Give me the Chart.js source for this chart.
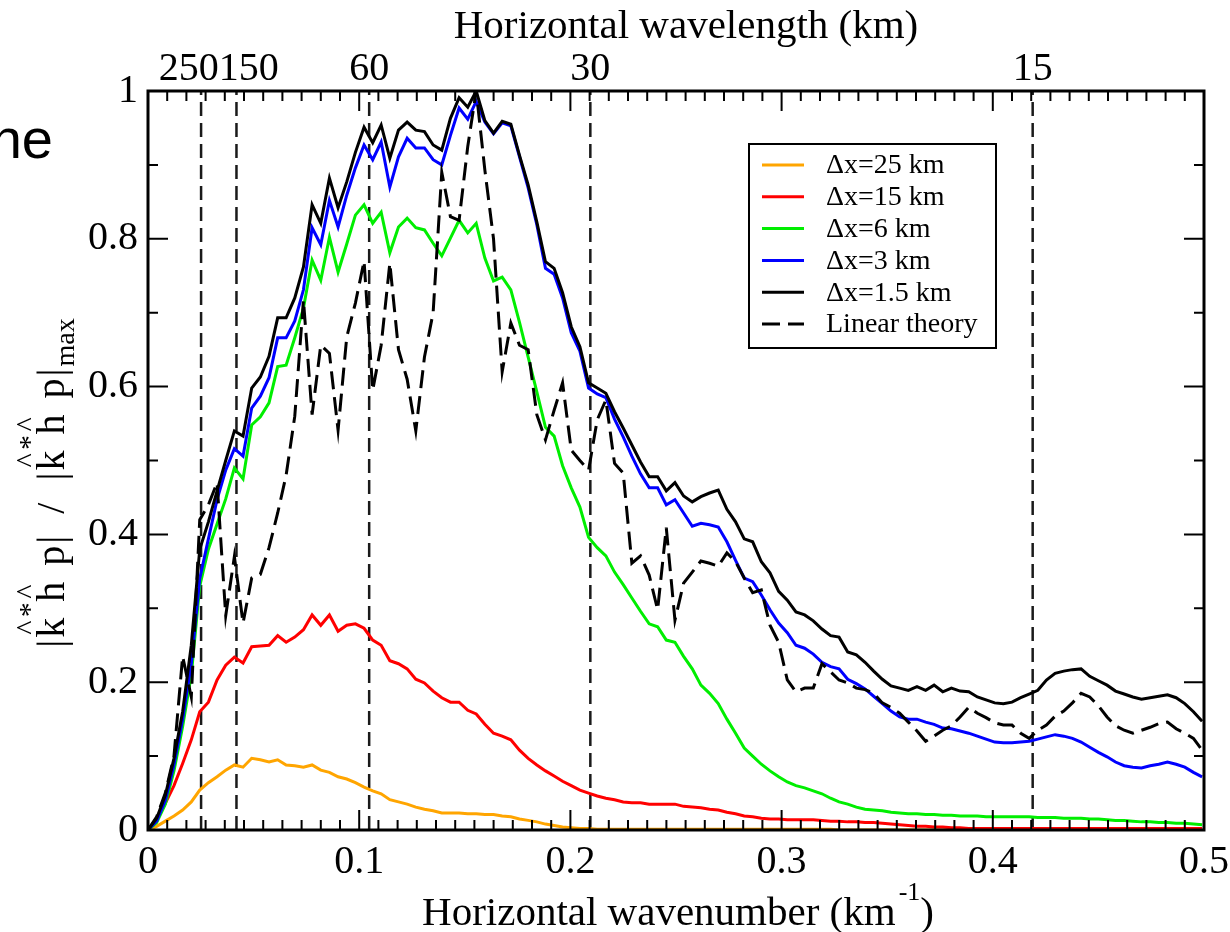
<!DOCTYPE html>
<html>
<head>
<meta charset="utf-8">
<script src="https://cdn.jsdelivr.net/npm/chart.js@4.4.1/dist/chart.umd.min.js"></script>
<style>
  html, body { margin: 0; padding: 0; background: #fff; }
  #wrap { position: relative; width: 1230px; height: 932px; }
  canvas { display: block; }
</style>
</head>
<body>
<div id="wrap"><canvas id="spectrum" width="1230" height="932"></canvas></div>
<script>
// Horizontal wavenumber samples (km^-1)
const wavenumber = [
  0, 0.0041, 0.0082, 0.0123, 0.0164, 0.0205, 0.0245, 0.0286, 0.0327, 0.0368,
  0.0409, 0.0450, 0.0491, 0.0532, 0.0573, 0.0614, 0.0654, 0.0695, 0.0736, 0.0777,
  0.0818, 0.0859, 0.0900, 0.0941, 0.0982, 0.1023, 0.1064, 0.1104, 0.1145, 0.1186,
  0.1227, 0.1268, 0.1309, 0.1350, 0.1391, 0.1432, 0.1473, 0.1514, 0.1554, 0.1595,
  0.1636, 0.1677, 0.1718, 0.1759, 0.1800, 0.1841, 0.1882, 0.1923, 0.1963, 0.2004,
  0.2045, 0.2086, 0.2127, 0.2168, 0.2209, 0.2250, 0.2291, 0.2332, 0.2373, 0.2413,
  0.2454, 0.2495, 0.2536, 0.2577, 0.2618, 0.2659, 0.2700, 0.2741, 0.2782, 0.2823,
  0.2863, 0.2904, 0.2945, 0.2986, 0.3027, 0.3068, 0.3109, 0.3150, 0.3191, 0.3232,
  0.3272, 0.3313, 0.3354, 0.3395, 0.3436, 0.3477, 0.3518, 0.3559, 0.3600, 0.3641,
  0.3682, 0.3722, 0.3763, 0.3804, 0.3845, 0.3886, 0.3927, 0.3968, 0.4009, 0.4050,
  0.4091, 0.4132, 0.4172, 0.4213, 0.4254, 0.4295, 0.4336, 0.4377, 0.4418, 0.4459,
  0.4500, 0.4541, 0.4581, 0.4622, 0.4663, 0.4704, 0.4745, 0.4786, 0.4827, 0.4868,
  0.4909, 0.4950, 0.4991
];

// Normalised spectra, one per grid spacing
const dx25km = [
  0, 0.005, 0.012, 0.019, 0.027, 0.038, 0.054, 0.064, 0.072, 0.081,
  0.088, 0.085, 0.097, 0.095, 0.092, 0.095, 0.088, 0.087, 0.085, 0.088,
  0.081, 0.078, 0.072, 0.069, 0.064, 0.058, 0.053, 0.049, 0.041, 0.038,
  0.035, 0.031, 0.028, 0.026, 0.023, 0.023, 0.023, 0.022, 0.022, 0.021,
  0.021, 0.019, 0.018, 0.015, 0.013, 0.011, 0.008, 0.006, 0.004, 0.003,
  0.002, 0.002, 0.001, 0.001, 0.001, 0.001, 0.001, 0.001, 0.001, 0.001,
  0.001, 0.001, 0.001, 0.001, 0.001, 0.001, 0.001, 0.001, 0.001, 0.001,
  0.001, 0.001, 0.001, 0.001, 0.001, 0.001, 0.001, 0.001, 0.001, 0.001,
  0, 0, 0, 0, 0, 0, 0, 0, 0, 0,
  0, 0, 0, 0, 0, 0, 0, 0, 0, 0,
  0, 0, 0, 0, 0, 0, 0, 0, 0, 0,
  0, 0, 0, 0, 0, 0, 0, 0, 0, 0,
  0, 0, 0
];

const dx15km = [
  0, 0.014, 0.036, 0.06, 0.09, 0.122, 0.16, 0.173, 0.203, 0.223,
  0.234, 0.226, 0.248, 0.249, 0.25, 0.263, 0.254, 0.261, 0.271, 0.291,
  0.277, 0.291, 0.269, 0.277, 0.279, 0.273, 0.257, 0.25, 0.229, 0.225,
  0.218, 0.204, 0.199, 0.188, 0.179, 0.173, 0.173, 0.162, 0.157, 0.143,
  0.131, 0.127, 0.122, 0.108, 0.097, 0.088, 0.08, 0.073, 0.066, 0.06,
  0.054, 0.05, 0.046, 0.043, 0.041, 0.038, 0.037, 0.037, 0.035, 0.035,
  0.035, 0.035, 0.032, 0.031, 0.03, 0.028, 0.027, 0.024, 0.022, 0.019,
  0.018, 0.016, 0.015, 0.015, 0.014, 0.014, 0.014, 0.014, 0.013, 0.012,
  0.012, 0.011, 0.011, 0.01, 0.01, 0.009, 0.008, 0.007, 0.006, 0.005,
  0.005, 0.004, 0.004, 0.003, 0.003, 0.002, 0.002, 0.002, 0.002, 0.002,
  0.002, 0.002, 0.002, 0.002, 0.002, 0.002, 0.002, 0.002, 0.002, 0.002,
  0.002, 0.002, 0.002, 0.002, 0.002, 0.002, 0.002, 0.002, 0.002, 0.002,
  0.002, 0.002, 0.002
];

const dx6km = [
  0, 0.01, 0.035, 0.08, 0.14, 0.21, 0.33, 0.38, 0.414, 0.448,
  0.49, 0.475, 0.548, 0.559, 0.578, 0.627, 0.629, 0.666, 0.706, 0.771,
  0.744, 0.802, 0.755, 0.793, 0.832, 0.846, 0.821, 0.836, 0.781, 0.816,
  0.828, 0.815, 0.812, 0.794, 0.777, 0.801, 0.825, 0.808, 0.821, 0.774,
  0.743, 0.748, 0.731, 0.687, 0.64, 0.593, 0.545, 0.533, 0.493, 0.463,
  0.437, 0.396, 0.382, 0.371, 0.349, 0.332, 0.314, 0.296, 0.279, 0.275,
  0.257, 0.254, 0.235, 0.218, 0.196, 0.185, 0.171, 0.15, 0.131, 0.111,
  0.1, 0.089, 0.08, 0.072, 0.065, 0.06, 0.057, 0.053, 0.049, 0.043,
  0.038, 0.035, 0.031, 0.028, 0.027, 0.026, 0.024, 0.023, 0.022, 0.022,
  0.021, 0.021, 0.02, 0.02, 0.019, 0.019, 0.019, 0.018, 0.018, 0.018,
  0.018, 0.018, 0.018, 0.017, 0.017, 0.017, 0.016, 0.016, 0.016, 0.015,
  0.015, 0.014, 0.013, 0.013, 0.012, 0.011, 0.011, 0.01, 0.01, 0.009,
  0.009, 0.008, 0.007
];

const dx3km = [
  0, 0.012, 0.04, 0.088, 0.15, 0.225, 0.34, 0.394, 0.447, 0.487,
  0.516, 0.506, 0.571, 0.587, 0.612, 0.666, 0.666, 0.689, 0.731, 0.815,
  0.792, 0.852, 0.816, 0.859, 0.896, 0.927, 0.907, 0.931, 0.87, 0.911,
  0.936, 0.923, 0.923, 0.907, 0.9, 0.94, 0.977, 0.962, 0.986, 0.958,
  0.942, 0.957, 0.953, 0.911, 0.869, 0.819, 0.76, 0.752, 0.72, 0.673,
  0.648, 0.598, 0.59, 0.585, 0.556, 0.532, 0.506, 0.482, 0.463, 0.463,
  0.44, 0.447, 0.429, 0.411, 0.415, 0.413, 0.41, 0.39, 0.365, 0.341,
  0.336, 0.318, 0.298, 0.28, 0.267, 0.25, 0.246, 0.238, 0.227, 0.221,
  0.218, 0.204, 0.198, 0.191, 0.181, 0.171, 0.161, 0.153, 0.15, 0.15,
  0.146, 0.143, 0.138, 0.137, 0.134, 0.131, 0.127, 0.123, 0.119, 0.118,
  0.118, 0.119, 0.12, 0.123, 0.126, 0.129, 0.127, 0.124, 0.119, 0.112,
  0.105, 0.099, 0.092, 0.087, 0.085, 0.084, 0.087, 0.089, 0.092, 0.089,
  0.085, 0.078, 0.072
];

const dx1p5km = [
  0, 0.016, 0.047, 0.097, 0.16, 0.25, 0.38, 0.417, 0.459, 0.5,
  0.54, 0.533, 0.598, 0.613, 0.641, 0.693, 0.693, 0.72, 0.762, 0.846,
  0.821, 0.882, 0.842, 0.877, 0.917, 0.951, 0.93, 0.954, 0.909, 0.947,
  0.958, 0.947, 0.945, 0.927, 0.92, 0.963, 0.991, 0.978, 1.0, 0.96,
  0.943, 0.959, 0.955, 0.913, 0.873, 0.823, 0.769, 0.76, 0.727, 0.681,
  0.654, 0.605, 0.598, 0.591, 0.566, 0.544, 0.521, 0.498, 0.478, 0.478,
  0.459, 0.47, 0.452, 0.444, 0.451, 0.456, 0.46, 0.434, 0.417, 0.394,
  0.39, 0.363, 0.348, 0.323, 0.311, 0.295, 0.291, 0.283, 0.272, 0.263,
  0.261, 0.241, 0.237, 0.227, 0.215, 0.204, 0.195, 0.192, 0.189, 0.194,
  0.189, 0.196, 0.187, 0.192, 0.188, 0.187, 0.18, 0.176, 0.172, 0.171,
  0.173, 0.179, 0.184, 0.189, 0.203, 0.212, 0.215, 0.217, 0.218, 0.208,
  0.202, 0.196, 0.188, 0.184, 0.18, 0.177, 0.179, 0.181, 0.183, 0.179,
  0.171, 0.16, 0.147
];

const linearTheory = [
  0, 0.018, 0.05, 0.1, 0.235, 0.18, 0.42, 0.44, 0.47, 0.29,
  0.37, 0.28, 0.341, 0.346, 0.382, 0.429, 0.48, 0.56, 0.717, 0.562,
  0.656, 0.645, 0.541, 0.667, 0.713, 0.77, 0.595, 0.656, 0.767, 0.65,
  0.61, 0.54, 0.64, 0.7, 0.89, 0.83, 0.825, 0.925, 1.0, 0.893,
  0.8, 0.62, 0.686, 0.656, 0.65, 0.562, 0.528, 0.568, 0.605, 0.514,
  0.5, 0.487, 0.555, 0.582, 0.496, 0.483, 0.361, 0.371, 0.345, 0.298,
  0.409, 0.284, 0.334, 0.349, 0.364, 0.361, 0.357, 0.375, 0.363, 0.341,
  0.321, 0.325, 0.277, 0.254, 0.203, 0.187, 0.192, 0.192, 0.225, 0.214,
  0.203, 0.199, 0.192, 0.19, 0.185, 0.172, 0.166, 0.158, 0.146, 0.134,
  0.12, 0.127, 0.135, 0.141, 0.153, 0.166, 0.158, 0.152, 0.145, 0.142,
  0.142, 0.131, 0.124, 0.135, 0.142, 0.154, 0.161, 0.172, 0.185, 0.18,
  0.168, 0.153, 0.141, 0.135, 0.131, 0.135, 0.139, 0.144, 0.146, 0.137,
  0.131, 0.124, 0.108
];

// Axis ticks and the wavelengths marked along the top edge (km)
const xTicks = [0, 0.1, 0.2, 0.3, 0.4, 0.5];
const yTicks = [0, 0.2, 0.4, 0.6, 0.8, 1];
const wavelengthMarks = [250, 150, 60, 30, 15];

const SERIF = '"Liberation Serif", "Times New Roman", serif';

const seriesDefs = [
  { label: 'Δx=25 km',      values: dx25km,       color: '#ffa500', order: 6 },
  { label: 'Δx=15 km',      values: dx15km,       color: '#ff0000', order: 5 },
  { label: 'Δx=6 km',       values: dx6km,        color: '#00ee00', order: 4 },
  { label: 'Δx=3 km',       values: dx3km,        color: '#0000ff', order: 3 },
  { label: 'Δx=1.5 km',     values: dx1p5km,      color: '#000000', order: 2 },
  { label: 'Linear theory', values: linearTheory, color: '#000000', order: 1, dash: [18, 8] }
];

const spectrumSets = seriesDefs.map(s => ({
  label: s.label,
  data: wavenumber.map((k, i) => ({ x: k, y: s.values[i] })),
  borderColor: s.color,
  backgroundColor: s.color,
  borderWidth: 3,
  borderDash: s.dash || [],
  pointRadius: 0,
  tension: 0,
  fill: false,
  order: s.order
}));

// Vertical guides at k = 2*pi / wavelength
const guideSets = wavelengthMarks.map(lam => ({
  label: lam + ' km',
  guide: true,
  data: [{ x: 2 * Math.PI / lam, y: 0 }, { x: 2 * Math.PI / lam, y: 1 }],
  borderColor: '#1a1a1a',
  borderWidth: 2.5,
  borderDash: [14, 7],
  pointRadius: 0,
  fill: false,
  order: 7
}));

function tickLine(ctx, x0, y0, x1, y1) {
  ctx.moveTo(x0, y0);
  ctx.lineTo(x1, y1);
}

// Frame, inward ticks, wavelength labels, titles and legend
const decorations = {
  id: 'decorations',
  afterDatasetsDraw(chart) {
    const { ctx, chartArea: a, scales: { x, y } } = chart;
    ctx.save();

    // inward tick marks on all four sides
    ctx.strokeStyle = '#000';
    ctx.lineWidth = 2;
    ctx.beginPath();
    const xMinor = (xTicks[1] - xTicks[0]) / 11;
    xTicks.forEach((v, i) => {
      const px = x.getPixelForValue(v);
      tickLine(ctx, px, a.bottom, px, a.bottom - 20);
      tickLine(ctx, px, a.top, px, a.top + 20);
      if (i < xTicks.length - 1) {
        for (let j = 1; j <= 10; j++) {
          const pm = x.getPixelForValue(v + j * xMinor);
          tickLine(ctx, pm, a.bottom, pm, a.bottom - 10);
          tickLine(ctx, pm, a.top, pm, a.top + 10);
        }
      }
    });
    yTicks.forEach((v, i) => {
      const py = y.getPixelForValue(v);
      tickLine(ctx, a.left, py, a.left + 20, py);
      tickLine(ctx, a.right, py, a.right - 20, py);
      if (i < yTicks.length - 1) {
        const pm = y.getPixelForValue((v + yTicks[i + 1]) / 2);
        tickLine(ctx, a.left, pm, a.left + 10, pm);
        tickLine(ctx, a.right, pm, a.right - 10, pm);
      }
    });
    ctx.stroke();

    // frame
    ctx.lineWidth = 3;
    ctx.strokeRect(a.left, a.top, a.right - a.left, a.bottom - a.top);

    // wavelength labels along the top, nudged apart where they collide
    ctx.fillStyle = '#000';
    ctx.font = '40px ' + SERIF;
    ctx.textAlign = 'center';
    ctx.textBaseline = 'alphabetic';
    const tops = wavelengthMarks.map(lam => {
      const text = String(lam);
      return { text, cx: x.getPixelForValue(2 * Math.PI / lam), w: ctx.measureText(text).width };
    });
    for (let i = 0; i < tops.length - 1; i++) {
      const l = tops[i], r = tops[i + 1];
      const overlap = (l.cx + l.w / 2) - (r.cx - r.w / 2);
      if (overlap > 0) { l.cx -= overlap / 2; r.cx += overlap / 2; }
    }
    tops.forEach(t => ctx.fillText(t.text, t.cx, a.top - 11));

    // top title
    ctx.font = '41px ' + SERIF;
    ctx.fillText('Horizontal wavelength (km)', (a.left + a.right) / 2 + 10, 38);

    // bottom title with superscript
    const mainA = 'Horizontal wavenumber (km';
    const sup = '-1';
    const mainB = ')';
    ctx.font = '41px ' + SERIF;
    const wA = ctx.measureText(mainA).width;
    const wB = ctx.measureText(mainB).width;
    ctx.font = '26px ' + SERIF;
    const wS = ctx.measureText(sup).width;
    const total = wA + 3 + wS + wB;
    const bx = (a.left + a.right) / 2 - total / 2 + 2;
    ctx.textAlign = 'left';
    ctx.font = '41px ' + SERIF;
    ctx.fillText(mainA, bx, 925);
    ctx.font = '26px ' + SERIF;
    ctx.fillText(sup, bx + wA + 3, 900);
    ctx.font = '41px ' + SERIF;
    ctx.fillText(mainB, bx + wA + 3 + wS, 925);

    // y-axis title, written bottom to top
    drawYTitle(ctx);

    // legend box
    const lx = a.left + 601, ly = a.top + 53, lw = 247, lh = 204;
    ctx.fillStyle = '#fff';
    ctx.fillRect(lx, ly, lw, lh);
    ctx.strokeStyle = '#000';
    ctx.lineWidth = 2;
    ctx.strokeRect(lx, ly, lw, lh);
    ctx.font = '28px ' + SERIF;
    ctx.textAlign = 'left';
    ctx.textBaseline = 'middle';
    const entries = chart.data.datasets.filter(d => !d.guide);
    entries.forEach((d, i) => {
      const ry = ly + 21 + i * 31.8;
      ctx.beginPath();
      ctx.strokeStyle = d.borderColor;
      ctx.lineWidth = 3;
      ctx.setLineDash(d.borderDash || []);
      ctx.moveTo(lx + 13, ry);
      ctx.lineTo(lx + 55, ry);
      ctx.stroke();
      ctx.setLineDash([]);
      ctx.fillStyle = '#000';
      ctx.fillText(d.label, lx + 77, ry + 1);
    });

    // fragment of neighbouring text at the left edge
    ctx.font = '56px "Liberation Sans", Arial, sans-serif';
    ctx.textAlign = 'right';
    ctx.textBaseline = 'alphabetic';
    ctx.fillStyle = '#000';
    ctx.fillText('he', 53, 158);

    ctx.restore();
  }
};

function drawYTitle(ctx) {
  const base = '40px ' + SERIF;
  const small = '28px ' + SERIF;
  ctx.save();
  ctx.font = base;
  // glyphs with the extra gap placed before each one
  const seq = [['|', 0], ['k', 2], ['h', 16], ['p', 16], ['|', 2],
               ['/', 22], ['|', 22], ['k', 2], ['h', 16], ['p', 16], ['|', 2]];
  let u = 0;
  const placed = [];
  seq.forEach(([ch, gap]) => {
    u += gap;
    const w = ctx.measureText(ch).width;
    placed.push({ ch, u, w });
    u += w;
  });
  ctx.font = small;
  const subW = ctx.measureText('max').width;
  const totalLen = u + 2 + subW;
  ctx.translate(64, 483);
  ctx.rotate(-Math.PI / 2);
  const u0 = -totalLen / 2;
  ctx.fillStyle = '#000';
  ctx.textAlign = 'left';
  ctx.textBaseline = 'alphabetic';
  ctx.font = base;
  placed.forEach(p => ctx.fillText(p.ch, u0 + p.u, 0));
  ctx.font = small;
  ctx.fillText('max', u0 + u + 2, 10);
  // accents above k and h in both groups
  ctx.font = '30px ' + SERIF;
  ctx.textAlign = 'center';
  [1, 7].forEach(ik => {
    const k = placed[ik], h = placed[ik + 1];
    ctx.fillText('^', u0 + k.u + k.w / 2, -27);
    ctx.fillText('*', u0 + (k.u + k.w + h.u) / 2, -25);
    ctx.fillText('^', u0 + h.u + h.w / 2, -27);
  });
  ctx.restore();
}

const tickFont = { family: SERIF, size: 40 };

new Chart(document.getElementById('spectrum'), {
  type: 'line',
  data: { datasets: [...spectrumSets, ...guideSets] },
  options: {
    responsive: false,
    animation: false,
    devicePixelRatio: 1,
    layout: { padding: { top: 91, right: 26, left: 0, bottom: 0 } },
    plugins: { legend: { display: false }, tooltip: { enabled: false } },
    scales: {
      x: {
        type: 'linear',
        min: 0,
        max: 0.5,
        grid: { display: false, drawTicks: false },
        border: { display: false },
        afterBuildTicks: s => { s.ticks = xTicks.map(v => ({ value: v })); },
        afterFit: s => { s.height = 102; s.paddingLeft = 0; s.paddingRight = 0; },
        ticks: {
          font: tickFont,
          color: '#000',
          padding: 8,
          maxRotation: 0,
          autoSkip: false,
          callback: v => String(Math.round(v * 10) / 10)
        }
      },
      y: {
        type: 'linear',
        min: 0,
        max: 1,
        grid: { display: false, drawTicks: false },
        border: { display: false },
        afterBuildTicks: s => { s.ticks = yTicks.map(v => ({ value: v })); },
        afterFit: s => { s.width = 148; s.paddingTop = 0; s.paddingBottom = 0; },
        ticks: {
          font: tickFont,
          color: '#000',
          padding: 10,
          autoSkip: false,
          callback: v => String(Math.round(v * 10) / 10)
        }
      }
    }
  },
  plugins: [decorations]
});
</script>
</body>
</html>
